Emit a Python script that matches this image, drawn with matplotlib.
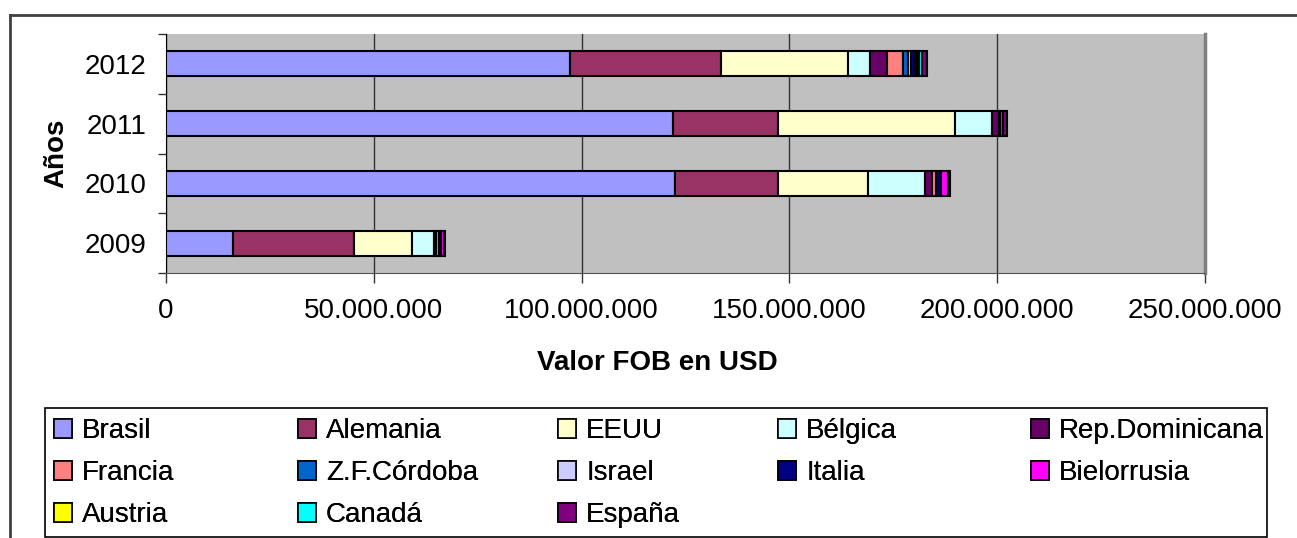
import numpy as np
import matplotlib.pyplot as plt
from matplotlib.patches import Patch, Rectangle
from matplotlib.lines import Line2D
from matplotlib.ticker import FuncFormatter

plt.rcParams['font.family'] = ['Liberation Sans', 'DejaVu Sans']

years = ['2009', '2010', '2011', '2012']
paises = ['Brasil', 'Alemania', 'EEUU', 'Bélgica', 'Rep.Dominicana', 'Francia',
          'Z.F.Córdoba', 'Israel', 'Italia', 'Bielorrusia', 'Austria', 'Canadá', 'España']
colores = ['#9999FF', '#993366', '#FFFFCC', '#CCFFFF', '#660066', '#FF8080',
           '#0066CC', '#CCCCFF', '#000080', '#FF00FF', '#FFFF00', '#00FFFF', '#800080']

# valores FOB en millones de USD, orden 2009, 2010, 2011, 2012
brasil = [16.1, 122.5, 122.0, 97.2]
alemania = [29.2, 24.8, 25.3, 36.4]
eeuu = [13.9, 21.7, 42.6, 30.6]
belgica = [5.3, 13.7, 8.9, 5.3]
rep_dominicana = [0.4, 1.6, 1.6, 4.1]
francia = [0.7, 1.0, 0.0, 3.8]
zf_cordoba = [0.0, 0.0, 0.0, 1.2]
israel = [0.0, 0.0, 0.0, 0.7]
italia = [0.5, 1.2, 0.3, 1.0]
bielorrusia = [0.7, 1.7, 0.6, 0.3]
austria = [0.0, 0.0, 0.0, 0.7]
canada = [0.0, 0.0, 0.2, 0.6]
espana = [0.3, 0.5, 0.9, 1.2]

series = [brasil, alemania, eeuu, belgica, rep_dominicana, francia, zf_cordoba,
          israel, italia, bielorrusia, austria, canada, espana]

W, H = 1297, 538
fig = plt.figure(figsize=(W / 100, H / 100), dpi=100)
ax = fig.add_axes([166 / W, 1 - 273 / H, (1205 - 166) / W, (273 - 34) / H])
ax.set_facecolor('#C0C0C0')

y = np.arange(len(years))
left = np.zeros(len(years))
for vals, col in zip(series, colores):
    v = np.array(vals) * 1e6
    m = v > 0
    ax.barh(y[m], v[m], left=left[m], height=0.42, color=col,
            edgecolor='black', linewidth=1.5, zorder=3)
    left += v

ax.set_xlim(0, 250e6)
ax.set_ylim(-0.5, 3.5)
ax.set_xticks(np.arange(0, 250e6 + 1, 50e6))
ax.xaxis.set_major_formatter(FuncFormatter(lambda v, p: f'{v:,.0f}'.replace(',', '.')))
ax.grid(axis='x', color='#333333', linewidth=1, zorder=1)
ax.set_axisbelow(True)

ax.set_yticks(y)
ax.set_yticklabels(years)
ax.set_yticks(np.arange(-0.5, 3.6, 1), minor=True)
ax.tick_params(axis='y', which='major', length=0, pad=14, labelsize=20)
ax.tick_params(axis='y', which='minor', length=6, width=1, color='#333333')
ax.tick_params(axis='x', length=7, width=1, color='#333333', pad=11, labelsize=20)

ax.spines['top'].set_visible(False)
ax.spines['left'].set_color('black')
ax.spines['bottom'].set_color('#555555')
ax.spines['right'].set_color('#808080')
ax.spines['right'].set_linewidth(2.5)

ax.set_ylabel('Años', fontsize=20, fontweight='bold', labelpad=11)
fig.text(657 / W, 1 - 363 / H, 'Valor FOB en USD', fontsize=20, fontweight='bold',
         ha='center', va='center')

# marco exterior
fig.add_artist(Line2D([10 / W, 10 / W], [0, 1 - 15 / H], color='#404040', linewidth=2))
fig.add_artist(Line2D([10 / W, 1], [1 - 15 / H, 1 - 15 / H], color='#404040', linewidth=2))

# caja de la leyenda
fig.add_artist(Rectangle((45 / W, 1 / H), (1267 - 45) / W, (537 - 408) / H,
                         transform=fig.transFigure, facecolor='white',
                         edgecolor='black', linewidth=1.2))

handles = [Patch(facecolor=c, edgecolor='black', linewidth=1.2) for c in colores]
col_x = [54, 298, 558, 778, 1031]
for k, x0 in enumerate(col_x):
    idx = list(range(k, len(paises), 5))
    lg = fig.legend([handles[i] for i in idx], [paises[i] for i in idx],
                    loc='upper left', bbox_to_anchor=(x0 / W, 1 - 418 / H),
                    frameon=False, fontsize=20, borderpad=0, borderaxespad=0,
                    handlelength=0.65, handleheight=0.65, handletextpad=0.36,
                    labelspacing=0.58)
    fig.add_artist(lg)

fig.savefig('out.png', dpi=100)
